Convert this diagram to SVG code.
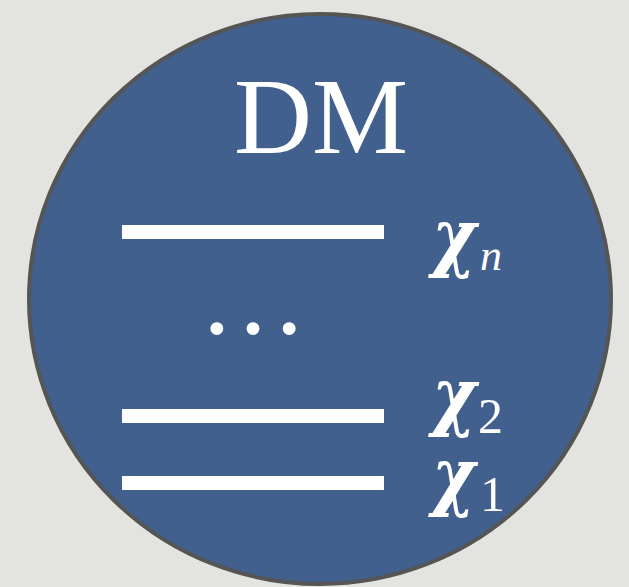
<svg xmlns="http://www.w3.org/2000/svg" width="629" height="587" viewBox="0 0 629 587">
<style>
.bar{fill:#ffffff}
.big{font-family:"Liberation Serif","Times New Roman",serif;fill:#ffffff}
.chi{font-family:"DejaVu Serif",serif;font-weight:bold;font-style:italic;fill:#ffffff;font-size:74px}
.sub{font-family:"Liberation Serif","Times New Roman",serif;fill:#ffffff}
</style>
<rect x="0" y="0" width="629" height="587" fill="#e3e3df"/>
<g id="dm">
<ellipse cx="320" cy="299" rx="291" ry="285" fill="#41608e" stroke="#555555" stroke-width="4"/>
<text class="big" x="321" y="153" font-size="108" text-anchor="middle">DM</text>
</g>
<g id="level-n">
<rect class="bar" x="122" y="225" width="262" height="14"/>
<text class="chi" x="432" y="262" textLength="44" lengthAdjust="spacingAndGlyphs">χ</text>
<text class="sub" x="480" y="270" font-size="44" font-style="italic">n</text>
</g>
<g id="dots">
<text class="big" x="253" y="333" font-size="108" text-anchor="middle">…</text>
</g>
<g id="level-2">
<rect class="bar" x="122" y="409" width="262" height="14"/>
<text class="chi" x="432" y="421" textLength="44" lengthAdjust="spacingAndGlyphs">χ</text>
<text class="sub" x="478" y="433" font-size="50">2</text>
</g>
<g id="level-1">
<rect class="bar" x="122" y="476" width="262" height="14"/>
<text class="chi" x="432" y="501" textLength="43" lengthAdjust="spacingAndGlyphs">χ</text>
<text class="sub" x="480" y="511" font-size="50">1</text>
</g>
<g id="connectors"/>
</svg>
